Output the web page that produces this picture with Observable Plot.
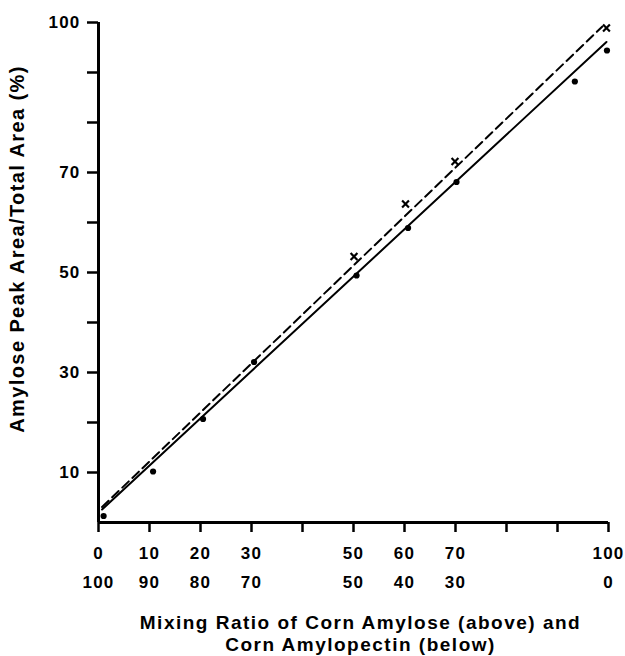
<!DOCTYPE html>
<html><head><meta charset="utf-8">
<script src="https://cdn.jsdelivr.net/npm/d3@7"></script>
<script src="https://cdn.jsdelivr.net/npm/@observablehq/plot@0.6"></script>
<style>
body{margin:0;background:#fff}
svg{display:block}
svg text{letter-spacing:1.2px}
</style>
</head><body><div id="chart"></div>
<script>
// Observed points: amylose content (dots, solid line fit)
const dotX = [1, 10.7, 20.5, 30.5, 50.6, 60.7, 70.2, 93.4, 99.7];
const dotY = [1.3, 10.2, 20.7, 32.1, 49.4, 58.9, 68.1, 88.2, 94.4];
// Second series (crosses, dashed line fit)
const crossX = [50.1, 60.2, 69.9, 99.6];
const crossY = [53.2, 63.7, 72.2, 98.9];
// Regression lines (endpoints as drawn)
const solidX = [0.7, 99.6];
const solidY = [2.6, 96.1];
const dashX = [0.7, 98.8];
const dashY = [3.1, 99.2];
// Ticks
const yTicks = [10, 20, 30, 40, 50, 60, 70, 80, 90, 100];
const yTickLabels = ["10", "", "30", "", "50", "", "70", "", "", "100"];
const xTicks = [0, 10, 20, 30, 40, 50, 60, 70, 80, 90, 100];
const xTickLabelsTop = ["0", "10", "20", "30", "", "50", "60", "70", "", "", "100"];
const xTickLabelsBottom = ["100", "90", "80", "70", "", "50", "40", "30", "", "", "0"];
const yTitle = "Amylose Peak Area/Total Area (%)";
const xTitle = "Mixing Ratio of Corn Amylose (above) and\nCorn Amylopectin (below)";

const yLab = new Map(yTicks.map((t, i) => [t, yTickLabels[i]]));
const xLabTop = new Map(xTicks.map((t, i) => [t, xTickLabelsTop[i]]));
const xLabBot = new Map(xTicks.map((t, i) => [t, xTickLabelsBottom[i]]));

const dots = dotX.map((x, i) => ({x, y: dotY[i]}));
const crosses = crossX.map((x, i) => ({x, y: crossY[i]}));
const solid = solidX.map((x, i) => ({x, y: solidY[i]}));
const dashed = dashX.map((x, i) => ({x, y: dashY[i]}));

const chart = Plot.plot({
  width: 625,
  height: 656,
  marginLeft: 98,
  marginRight: 17,
  marginTop: 22,
  marginBottom: 134,
  x: {domain: [0, 100]},
  y: {domain: [0, 100]},
  style: {fontFamily: "'Liberation Sans', Arial, sans-serif", fontWeight: "bold", fontSize: "17px", color: "#000", background: "#fff"},
  marks: [
    Plot.axisY(yTicks, {tickSize: 11, tickPadding: 7, tickFormat: d => yLab.get(d), strokeWidth: 2.5, label: null, fontSize: 17}),
    Plot.axisX(xTicks, {tickSize: 10, tickPadding: 14, tickFormat: d => xLabTop.get(d), strokeWidth: 2.5, label: null, fontSize: 17}),
    Plot.axisX(xTicks, {tickSize: 0, tickPadding: 53, tickFormat: d => xLabBot.get(d), label: null, fontSize: 17}),
    Plot.ruleX([0], {y1: 0, y2: 100, strokeWidth: 3, stroke: "#000"}),
    Plot.ruleY([0], {x1: 0, x2: 100, strokeWidth: 3, stroke: "#000"}),
    Plot.line(solid, {x: "x", y: "y", stroke: "#000", strokeWidth: 2}),
    Plot.line(dashed, {x: "x", y: "y", stroke: "#000", strokeWidth: 2, strokeDasharray: "9,5"}),
    Plot.dot(dots, {x: "x", y: "y", r: 3.1, fill: "#000", stroke: "none"}),
    Plot.dot(crosses, {x: "x", y: "y", symbol: "times", r: 3.2, stroke: "#000", strokeWidth: 2.2}),
    Plot.text([yTitle], {frameAnchor: "left", textAnchor: "middle", lineAnchor: "middle", dx: -81, dy: -23.5, rotate: -90, fontSize: 20, fill: "#000"}),
    Plot.text([xTitle], {frameAnchor: "bottom", textAnchor: "middle", lineAnchor: "middle", dx: 7, dy: 110, fontSize: 19, lineHeight: 1.16, fill: "#000"})
  ]
});
document.getElementById("chart").appendChild(chart);
// title-specific letter spacing
chart.querySelectorAll("text").forEach(t => {
  if (t.textContent === yTitle) t.style.letterSpacing = "1.4px";
  if (t.textContent.startsWith("Mixing") || t.textContent.startsWith("Corn")) t.style.letterSpacing = "1.5px";
});
</script>
</body></html>
